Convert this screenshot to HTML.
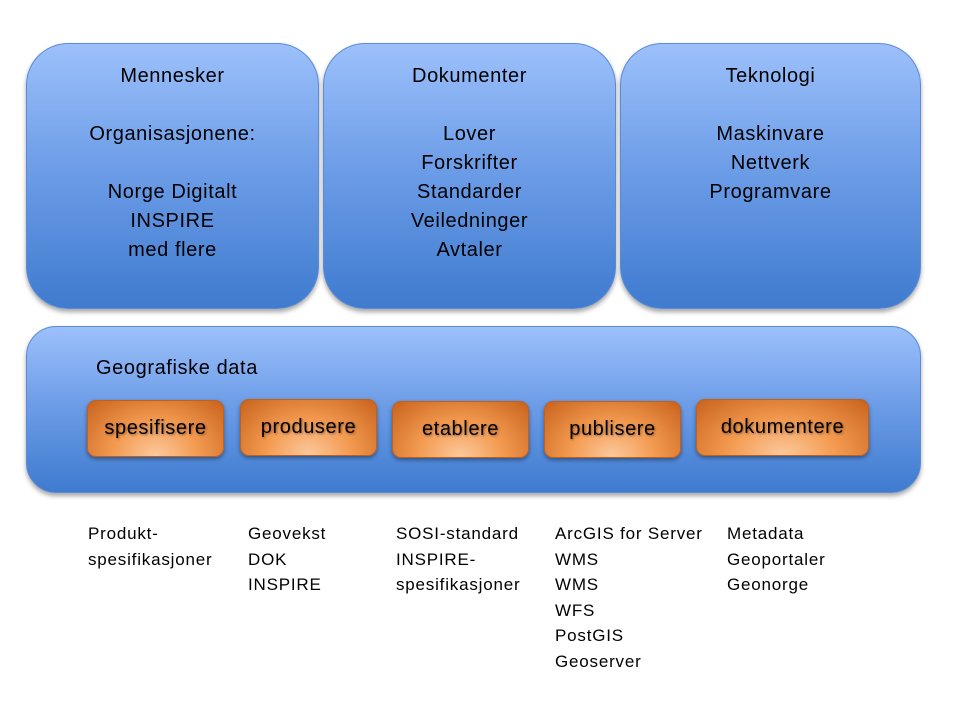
<!DOCTYPE html>
<html><head><meta charset="utf-8"><style>
body{margin:0;width:960px;height:720px;background:#fff;position:relative;font-family:"Liberation Sans",sans-serif;overflow:hidden}
.b{position:absolute;background:linear-gradient(#9cc0fb,#6a9be6 50%,#3f7bcf);border:1px solid #5b8bd4;box-shadow:0 3px 5px rgba(0,0,0,.35);box-sizing:border-box}
.t{position:absolute;text-align:center;font-size:20px;letter-spacing:0.6px;color:#000;line-height:29px}
.o{position:absolute;height:57px;border-radius:9px;background:radial-gradient(ellipse at 50% 100%,#fcc99d 0%,#f39a50 45%,#c8621c 100%);box-shadow:0 2px 4px rgba(0,0,0,.4);border:1px solid #c0601c;box-sizing:border-box;text-align:center;line-height:55px;font-size:20px;letter-spacing:0.6px;color:#000;text-shadow:1px 1px 2px rgba(0,0,0,.4)}
.l{position:absolute;font-size:17px;letter-spacing:0.8px;line-height:25.5px;color:#000}
</style></head><body>
<div class="b" style="left:26px;top:43px;width:293px;height:266px;border-radius:42px"></div>
<div class="b" style="left:323px;top:43px;width:293px;height:266px;border-radius:42px"></div>
<div class="b" style="left:620px;top:43px;width:301px;height:266px;border-radius:42px"></div>
<div class="t" style="left:26px;top:62px;width:293px">Mennesker<br><br>Organisasjonene:<br><br>Norge Digitalt<br>INSPIRE<br>med flere</div>
<div class="t" style="left:323px;top:62px;width:293px">Dokumenter<br><br>Lover<br>Forskrifter<br>Standarder<br>Veiledninger<br>Avtaler</div>
<div class="t" style="left:620px;top:62px;width:301px">Teknologi<br><br>Maskinvare<br>Nettverk<br>Programvare</div>
<div class="b" style="left:26px;top:326px;width:895px;height:167px;border-radius:30px"></div>
<div class="t" style="left:96px;top:354px;text-align:left">Geografiske data</div>
<div class="o" style="left:87px;top:400px;width:137px">spesifisere</div>
<div class="o" style="left:240px;top:399px;width:137px">produsere</div>
<div class="o" style="left:392px;top:401px;width:137px">etablere</div>
<div class="o" style="left:544px;top:401px;width:137px">publisere</div>
<div class="o" style="left:696px;top:399px;width:173px">dokumentere</div>
<div class="l" style="left:88px;top:521px">Produkt-<br>spesifikasjoner</div>
<div class="l" style="left:248px;top:521px">Geovekst<br>DOK<br>INSPIRE</div>
<div class="l" style="left:396px;top:521px">SOSI-standard<br>INSPIRE-<br>spesifikasjoner</div>
<div class="l" style="left:555px;top:521px">ArcGIS for Server<br>WMS<br>WMS<br>WFS<br>PostGIS<br>Geoserver</div>
<div class="l" style="left:727px;top:521px">Metadata<br>Geoportaler<br>Geonorge</div>
</body></html>
